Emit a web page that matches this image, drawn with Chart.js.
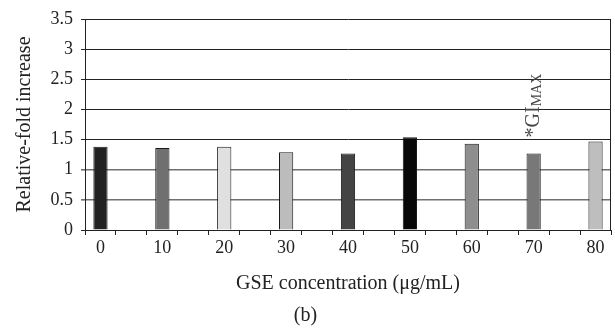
<!DOCTYPE html>
<html>
<head>
<meta charset="utf-8">
<script src="https://cdn.jsdelivr.net/npm/chart.js@4.4.1/dist/chart.umd.min.js"></script>
<style>
    html, body { margin: 0; padding: 0; background: #fff; }
    #wrap { width: 615px; height: 328px; }
</style>
</head>
<body>
<div id="wrap"><canvas id="gseChart"></canvas></div>
<script>
// Concentrazioni GSE (ug/mL) e aumento relativo
const concentrations = ['0', '10', '20', '30', '40', '50', '60', '70', '80'];
const foldIncrease = [1.38, 1.36, 1.38, 1.29, 1.27, 1.54, 1.43, 1.27, 1.47];
const barColors = ['#222222', '#707070', '#e0e0e0', '#bcbcbc', '#444444', '#080808', '#8e8e8e', '#787878', '#bebebe'];
const yTicks = [0, 0.5, 1, 1.5, 2, 2.5, 3, 3.5];
const markedIndex = 7; // 70 ug/mL -> *GI MAX

// L'asse x di Excel ha una categoria vuota tra ogni concentrazione (passo 5)
const slots = [];
const slotValues = [];
const slotColors = [];
concentrations.forEach((c, i) => {
    if (i > 0) {
        slots.push(String(Number(c) - 5));
        slotValues.push(null);
        slotColors.push('#fff');
    }
    slots.push(c);
    slotValues.push(foldIncrease[i]);
    slotColors.push(barColors[i]);
});

const serif = "'Liberation Serif', 'DejaVu Serif', serif";

const extrasPlugin = {
    id: 'extras',
    afterDraw(chart) {
        const { ctx, chartArea } = chart;
        const x = chart.scales.x;
        const y = chart.scales.y;

        // bordo destro dell'area del grafico
        ctx.save();
        ctx.strokeStyle = '#222';
        ctx.lineWidth = 1;
        ctx.beginPath();
        ctx.moveTo(Math.round(chartArea.right) - 0.5, chartArea.top);
        ctx.lineTo(Math.round(chartArea.right) - 0.5, chartArea.bottom);
        ctx.stroke();

        // etichetta verticale *GI MAX sopra la barra dei 70
        const px = x.getPixelForValue(markedIndex * 2);
        const py = y.getPixelForValue(foldIncrease[markedIndex]) - 16;
        ctx.translate(px, py);
        ctx.rotate(-Math.PI / 2);
        ctx.fillStyle = '#444';
        ctx.textBaseline = 'middle';
        ctx.textAlign = 'left';
        ctx.font = '20px ' + serif;
        const main = '*GI';
        ctx.fillText(main, 0, 0);
        const w = ctx.measureText(main).width;
        ctx.font = '14px ' + serif;
        ctx.fillText('MAX', w, 4);
        ctx.restore();
    }
};

const ctx = document.getElementById('gseChart').getContext('2d');

new Chart(ctx, {
    type: 'bar',
    data: {
        labels: slots,
        datasets: [{
            data: slotValues,
            backgroundColor: slotColors,
            borderColor: '#1a1a1a',
            borderWidth: 1,
            barPercentage: 0.46,
            categoryPercentage: 1
        }]
    },
    options: {
        responsive: true,
        maintainAspectRatio: false,
        animation: false,
        layout: {
            padding: { left: 0, right: 4, top: 19, bottom: 0 }
        },
        scales: {
            x: {
                afterFit(scale) { scale.height = 74; },
                grid: {
                    offset: true,
                    drawOnChartArea: false,
                    drawTicks: true,
                    tickLength: 5,
                    color: '#222'
                },
                border: { color: '#222', width: 1 },
                ticks: {
                    autoSkip: false,
                    maxRotation: 0,
                    padding: 2,
                    color: '#222',
                    font: { family: serif, size: 18 },
                    callback: function (value, index) {
                        return index % 2 === 0 ? this.getLabelForValue(value) : '';
                    }
                },
                title: {
                    display: true,
                    text: 'GSE concentration (\u03BCg/mL)',
                    color: '#222',
                    font: { family: serif, size: 20 },
                    padding: { top: 0, bottom: 8 }
                }
            },
            y: {
                min: 0,
                max: 3.5,
                afterFit(scale) { scale.width = 85; },
                afterBuildTicks(scale) {
                    scale.ticks = yTicks.map(v => ({ value: v }));
                },
                grid: {
                    // le linee basse nel riferimento sono grigie e piu spesse
                    color: c => (c.tick && (c.tick.value === 0.5 || c.tick.value === 1)) ? '#707070' : '#222',
                    lineWidth: c => (c.tick && (c.tick.value === 0.5 || c.tick.value === 1)) ? 1.6 : 1,
                    tickLength: 4
                },
                border: { color: '#222', width: 1 },
                ticks: {
                    padding: 8,
                    color: '#222',
                    font: { family: serif, size: 18 },
                    callback: v => String(v)
                },
                title: {
                    display: true,
                    text: 'Relative-fold increase',
                    color: '#222',
                    font: { family: serif, size: 20 },
                    padding: { top: 13, bottom: 0 }
                }
            }
        },
        plugins: {
            legend: { display: false },
            tooltip: { enabled: false },
            title: {
                display: true,
                position: 'bottom',
                text: '(b)',
                color: '#222',
                font: { family: serif, size: 20, weight: 'normal' },
                padding: { top: 0, bottom: 0 }
            }
        }
    },
    plugins: [extrasPlugin]
});
</script>
</body>
</html>
